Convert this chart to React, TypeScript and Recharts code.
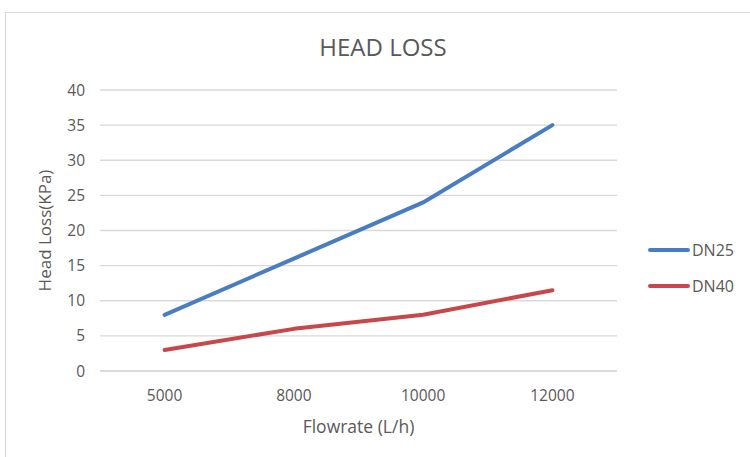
import { CartesianGrid, Legend, Line, LineChart, XAxis, YAxis } from "recharts";

const flowrates = ["5000", "8000", "10000", "12000"];
const dn25 = [8, 16, 24, 35];
const dn40 = [3, 6, 8, 11.5];
const yTicks = [0, 5, 10, 15, 20, 25, 30, 35, 40];

const data = flowrates.map((f, i) => ({ flow: f, DN25: dn25[i], DN40: dn40[i] }));

const FONT = "'Open Sans', 'Noto Sans', sans-serif";
const TEXT = "#595959";

function LegendBox({ payload }: any) {
  return (
    <div style={{ fontFamily: FONT, fontSize: 16, color: TEXT }}>
      {(payload || []).map((p: any) => (
        <div key={p.value} style={{ display: "flex", alignItems: "center", height: 36 }}>
          <div style={{ width: 42, height: 4, borderRadius: 2, background: p.color, marginRight: 2 }} />
          <span>{p.value}</span>
        </div>
      ))}
    </div>
  );
}

export default function App() {
  return (
    <div style={{ position: "absolute", left: 0, top: 0, width: 750, height: 457, background: "#fff", overflow: "hidden" }}>
      <div
        style={{
          position: "absolute",
          left: 5,
          top: 12,
          width: 760,
          height: 460,
          borderLeft: "1px solid #d9d9d9",
          borderTop: "1px solid #d9d9d9",
        }}
      />
      <div
        style={{
          position: "absolute",
          left: 0,
          width: 766,
          top: 30,
          textAlign: "center",
          fontFamily: FONT,
          fontSize: 24,
          color: TEXT,
        }}
      >
        HEAD LOSS
      </div>
      <div style={{ position: "absolute", left: 0, top: 0 }}>
        <LineChart width={750} height={457} data={data} margin={{ top: 90, right: 133, bottom: 56, left: 0 }}>
          <CartesianGrid vertical={false} stroke="#d9d9d9" strokeWidth={1.3} />
          <XAxis
            dataKey="flow"
            padding={{ left: 64.6, right: 64.6 }}
            axisLine={{ stroke: "#d9d9d9", strokeWidth: 1.3 }}
            tickLine={false}
            tickMargin={13}
            tick={{ fill: TEXT, fontSize: 15.5, fontFamily: FONT }}
            label={{ value: "Flowrate (L/h)", position: "insideBottom", offset: -32, fill: TEXT, fontSize: 17.5, fontFamily: FONT }}
          />
          <YAxis
            width={100}
            domain={[0, 40]}
            ticks={yTicks}
            axisLine={false}
            tickLine={false}
            tickMargin={9}
            tick={{ fill: TEXT, fontSize: 15.5, fontFamily: FONT }}
            label={{ value: "Head Loss(KPa)", angle: -90, position: "insideLeft", offset: 45, fill: TEXT, fontSize: 17, fontFamily: FONT, style: { textAnchor: "middle" } }}
          />
          <Legend
            layout="vertical"
            verticalAlign="middle"
            align="center"
            content={<LegendBox />}
            wrapperStyle={{ position: "absolute", left: 648, top: 232, width: 100 }}
          />
          <Line
            type="linear"
            dataKey="DN25"
            stroke="#4a7dbf"
            strokeWidth={4}
            dot={false}
            strokeLinecap="round"
            isAnimationActive={false}
          />
          <Line
            type="linear"
            dataKey="DN40"
            stroke="#c8474a"
            strokeWidth={4}
            dot={false}
            strokeLinecap="round"
            strokeLinejoin="round"
            isAnimationActive={false}
          />
        </LineChart>
      </div>
    </div>
  );
}
